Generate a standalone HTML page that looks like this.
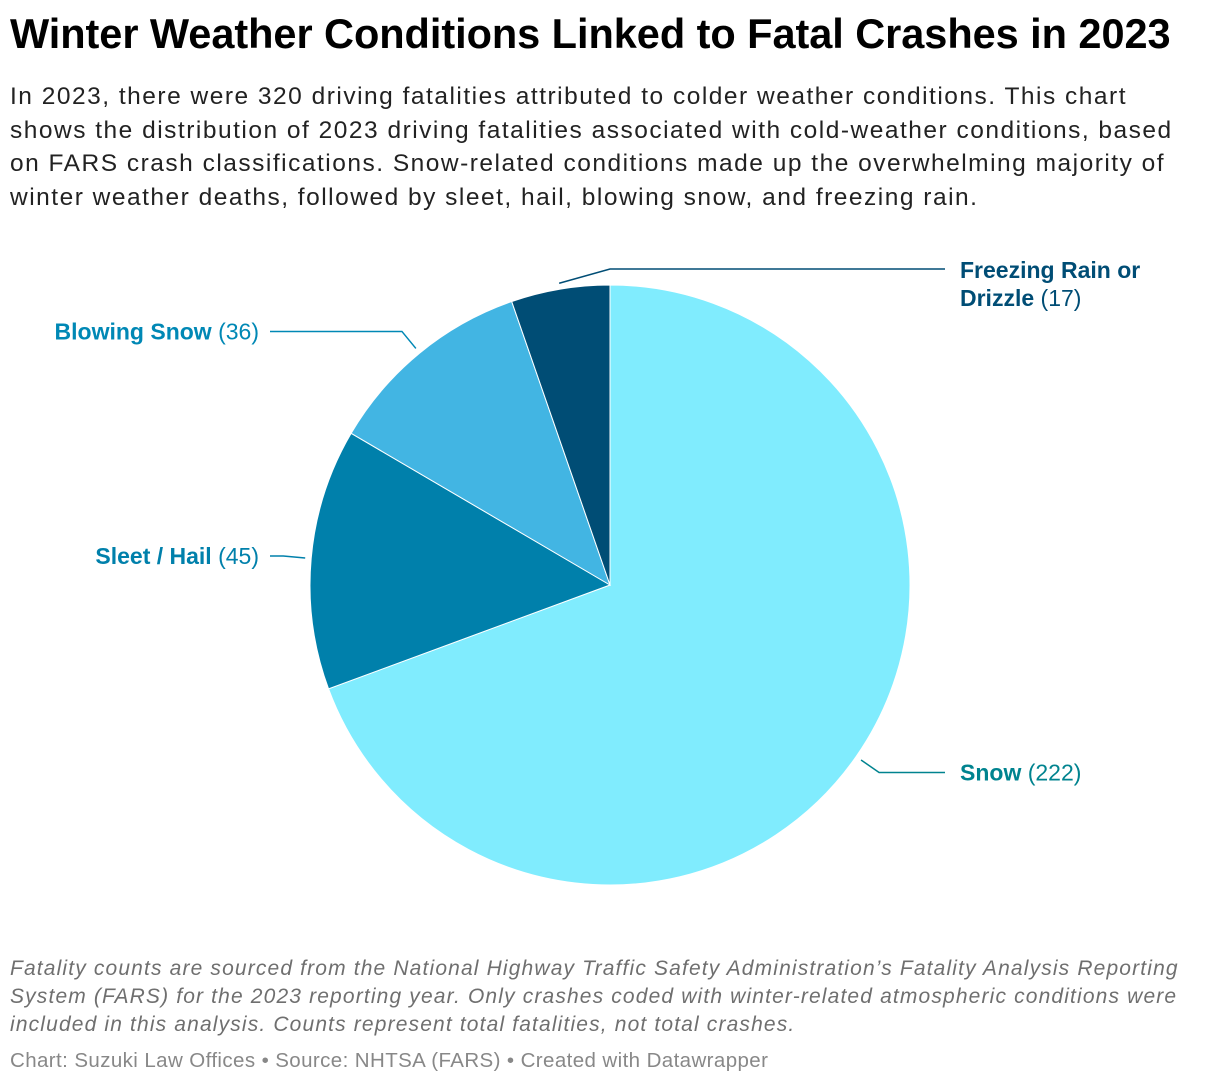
<!DOCTYPE html>
<html><head><meta charset="utf-8"><style>
body{margin:0;width:1220px;height:1086px;background:#fff;font-family:"Liberation Sans",sans-serif;position:relative;overflow:hidden}
#title{position:absolute;left:10px;top:10px;font-size:41.5px;font-weight:bold;color:#000;margin:0;letter-spacing:-0.05px;white-space:nowrap}
#sub{position:absolute;left:10px;top:80px;width:1210px;font-size:24.5px;line-height:33.7px;color:#222;white-space:nowrap;letter-spacing:1.5px}
#notes{position:absolute;left:10px;top:955px;width:1210px;font-size:21px;line-height:28px;color:#6f6f6f;font-style:italic;white-space:nowrap;letter-spacing:1.15px}
#credit{position:absolute;left:10px;top:1049px;font-size:20.5px;color:#888;white-space:nowrap;letter-spacing:0.4px}
svg{position:absolute;left:0;top:0}
</style></head><body>
<h1 id="title">Winter Weather Conditions Linked to Fatal Crashes in 2023</h1>
<div id="sub">In 2023, there were 320 driving fatalities attributed to colder weather conditions. This chart<br>shows the distribution of 2023 driving fatalities associated with cold-weather conditions, based<br>on FARS crash classifications. Snow-related conditions made up the overwhelming majority of<br>winter weather deaths, followed by sleet, hail, blowing snow, and freezing rain.</div>
<svg id="chart" width="1220" height="1086"></svg>
<div id="notes">Fatality counts are sourced from the National Highway Traffic Safety Administration’s Fatality Analysis Reporting<br>System (FARS) for the 2023 reporting year. Only crashes coded with winter-related atmospheric conditions were<br>included in this analysis. Counts represent total fatalities, not total crashes.</div>
<div id="credit">Chart: Suzuki Law Offices • Source: NHTSA (FARS) • Created with Datawrapper</div>
<script>
const categories=["Snow","Sleet / Hail","Blowing Snow","Freezing Rain or Drizzle"];
const values=[222,45,36,17];
const colors=["#80ecfe","#0080ab","#42b5e3","#004d75"];
const labelColors=["#00838f","#0080ab","#0088b5","#004d75"];
const NS="http://www.w3.org/2000/svg";
const svg=document.getElementById('chart');
const cx=610,cy=585,R=300;
const total=values.reduce((a,b)=>a+b,0);
function pt(a,r){return [cx+r*Math.sin(a),cy-r*Math.cos(a)];}
let a0=0;
values.forEach((v,i)=>{
  const a1=a0+v/total*2*Math.PI;
  const p0=pt(a0,R),p1=pt(a1,R);
  const large=(a1-a0)>Math.PI?1:0;
  const p=document.createElementNS(NS,'path');
  p.setAttribute('d',`M${cx},${cy}L${p0[0]},${p0[1]}A${R},${R} 0 ${large} 1 ${p1[0]},${p1[1]}Z`);
  p.setAttribute('fill',colors[i]);p.setAttribute('stroke','#fff');p.setAttribute('stroke-width','1');
  
  
  svg.appendChild(p);
  const mid=(a0+a1)/2;
  const small=v/total<0.08;
  const s=pt(mid,R+6);
  let e=pt(mid,R+28);
  let right=Math.sin(mid)>=0;
  if(small){right=true;e=[cx,cy-R-16];}
  const lineEnd=right?945:270;
  const ly=e[1];
  const l=document.createElementNS(NS,'polyline');
  l.setAttribute('points',`${s[0]},${s[1]} ${e[0]},${ly} ${lineEnd},${ly}`);
  l.setAttribute('fill','none');l.setAttribute('stroke',labelColors[i]);l.setAttribute('stroke-width','1.5');
  
  
  svg.appendChild(l);
  const t=document.createElementNS(NS,'text');
  t.setAttribute('fill',labelColors[i]);t.setAttribute('font-size','23');
  
  
  const name=categories[i];
  if(name.length>20){
    const w=name.split(' ');
    const l1=w.slice(0,3).join(' '),l2=w.slice(3).join(' ');
    t.setAttribute('x',960);t.setAttribute('y',ly+9);
    const a=document.createElementNS(NS,'tspan');a.setAttribute('font-weight','bold');a.textContent=l1;t.appendChild(a);
    const b=document.createElementNS(NS,'tspan');b.setAttribute('x',960);b.setAttribute('dy','28');b.setAttribute('font-weight','bold');b.textContent=l2;t.appendChild(b);
    const c=document.createElementNS(NS,'tspan');c.textContent=' ('+values[i]+')';t.appendChild(c);
  } else {
    t.setAttribute('x',right?960:259);t.setAttribute('y',ly+8);
    t.setAttribute('text-anchor',right?'start':'end');
    const a=document.createElementNS(NS,'tspan');a.setAttribute('font-weight','bold');a.textContent=name;t.appendChild(a);
    const c=document.createElementNS(NS,'tspan');c.textContent=' ('+values[i]+')';t.appendChild(c);
  }
  svg.appendChild(t);
  a0=a1;
});
</script>
</body></html>
